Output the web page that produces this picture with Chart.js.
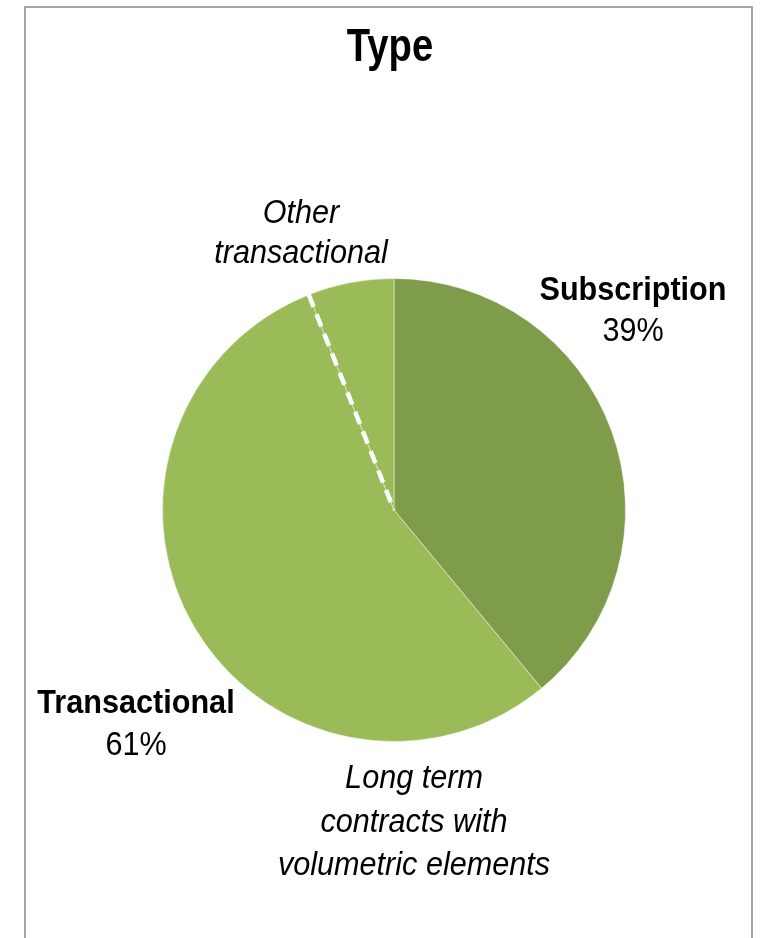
<!DOCTYPE html>
<html>
<head>
<meta charset="utf-8">
<script src="https://cdn.jsdelivr.net/npm/chart.js@4.4.1/dist/chart.umd.min.js"></script>
<style>
  body { margin: 0; background: #fff; overflow: hidden; }
  #wrap { position: relative; width: 765px; height: 938px; }
  #frame { position: absolute; left: 24px; top: 6px; width: 729px; height: 960px;
           border: 2px solid #a6a6a6; box-sizing: border-box; pointer-events: none; }
  canvas { position: absolute; left: 0; top: 0; }
</style>
</head>
<body>
<div id="wrap">
  <div id="frame"></div>
  <canvas id="graph" width="765" height="938"></canvas>
</div>
<script>
// slices, clockwise from 12 o'clock
const categories = ['Subscription', 'Long term contracts with volumetric elements', 'Other transactional'];
const shares = [39, 55, 6];
const sliceColors = ['#7f9c4a', '#9bbb59', '#9bbb59'];

// group totals shown in the bold labels
const groupNames = ['Subscription', 'Transactional'];
const groupShares = [shares[0], shares[1] + shares[2]];

const chartTitle = 'Type';
const FONT = '"Liberation Sans", Arial, sans-serif';

// white dashed divider between the two transactional slices
const dashedDivider = {
  id: 'dashedDivider',
  afterDatasetsDraw(chart) {
    const arc = chart.getDatasetMeta(0).data[2];
    const ctx = chart.ctx;
    const a = arc.startAngle;
    ctx.save();
    ctx.strokeStyle = '#ffffff';
    ctx.lineWidth = 4.5;
    ctx.setLineDash([13, 8]);
    ctx.beginPath();
    ctx.moveTo(arc.x + Math.cos(a) * arc.outerRadius, arc.y + Math.sin(a) * arc.outerRadius);
    ctx.lineTo(arc.x, arc.y);
    ctx.stroke();
    ctx.restore();
  }
};

// condensed text: draw squeezed horizontally around x
function narrowText(ctx, text, font, x, y, sx) {
  ctx.save();
  ctx.font = font;
  ctx.translate(x, y);
  ctx.scale(sx, 1);
  ctx.fillText(text, 0, 0);
  ctx.restore();
}

// title and text labels, placed relative to the pie centre
const sliceLabels = {
  id: 'sliceLabels',
  afterDraw(chart) {
    const arc = chart.getDatasetMeta(0).data[0];
    const cx = arc.x, cy = arc.y;
    const ctx = chart.ctx;
    const sx = 0.9;
    const put = (lines, dx, dy, lh) => {
      lines.forEach((l, i) => narrowText(ctx, l.text, l.font, cx + dx, cy + dy + i * lh, sx));
    };
    const bold = 'bold 34px ' + FONT;
    const reg = '34px ' + FONT;
    const ital = 'italic 34px ' + FONT;
    ctx.save();
    ctx.fillStyle = '#000';
    ctx.textAlign = 'center';
    ctx.textBaseline = 'alphabetic';
    narrowText(ctx, chartTitle, 'bold 46px ' + FONT, cx - 4, 61, 0.83);
    put([{ text: groupNames[0], font: bold }, { text: groupShares[0] + '%', font: reg }], 239, -210, 41);
    put([{ text: groupNames[1], font: bold }, { text: groupShares[1] + '%', font: reg }], -258, 203, 42);
    put([{ text: 'Other', font: ital }, { text: 'transactional', font: ital }], -93, -287, 40);
    put([{ text: 'Long term', font: ital }, { text: 'contracts with', font: ital },
         { text: 'volumetric elements', font: ital }], 20, 278, 43.5);
    ctx.restore();
  }
};

const graph = document.getElementById('graph').getContext('2d');
let myChart = new Chart(graph, {
  type: 'pie',
  data: {
    labels: categories,
    datasets: [{
      data: shares,
      backgroundColor: sliceColors,
      borderColor: 'rgba(255,255,255,0.45)',
      borderWidth: 1
    }]
  },
  options: {
    responsive: false,
    animation: false,
    layout: { padding: { left: 162, right: 139, top: 278, bottom: 196 } },
    plugins: {
      legend: { display: false },
      tooltip: { enabled: false },
      title: { display: false }
    }
  },
  plugins: [dashedDivider, sliceLabels]
});
</script>
</body>
</html>
